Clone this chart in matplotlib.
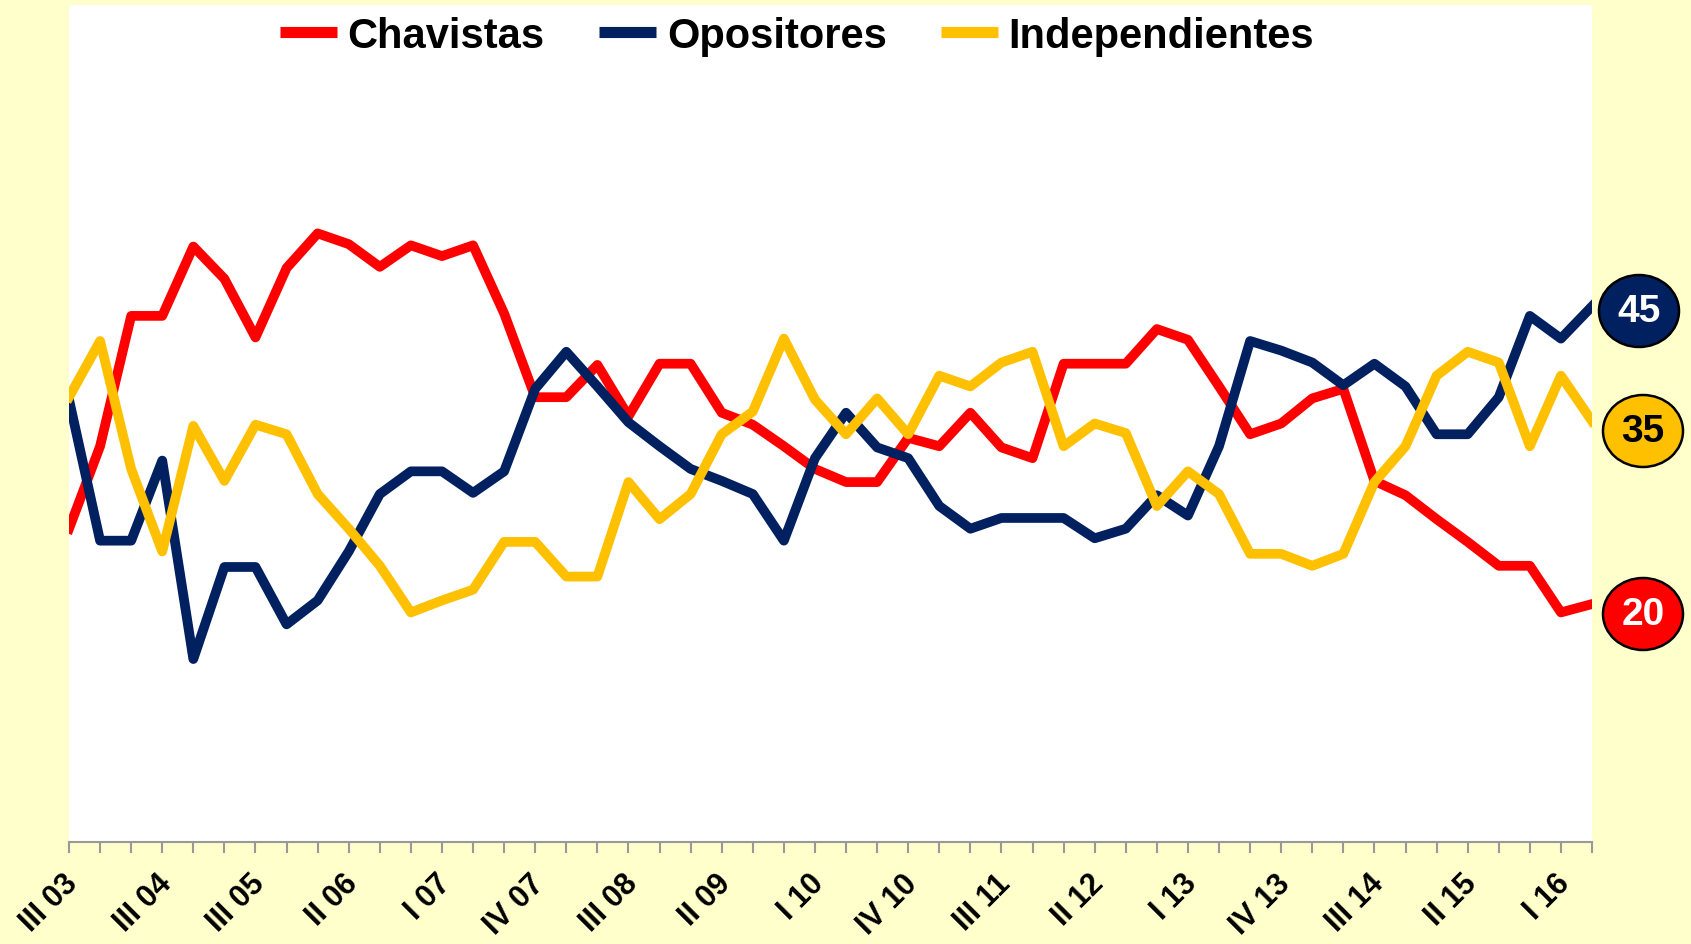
import matplotlib
matplotlib.use("Agg")
import matplotlib.pyplot as plt
import matplotlib.transforms as mtransforms
from matplotlib.patches import Ellipse
from matplotlib.lines import Line2D

plt.rcParams['font.family'] = ['Liberation Sans', 'DejaVu Sans']

# quarterly readings, III 03 .. II 16 (50 points), in %
chavistas = [26.2, 33.1, 44.0, 44.0, 49.8, 47.1, 42.2, 48.0, 50.9, 50.0,
             48.1, 49.9, 49.0, 49.9, 44.2, 37.2, 37.2, 39.9, 35.6, 40.0,
             40.0, 35.9, 34.9, 33.1, 31.2, 30.1, 30.1, 33.8, 33.1, 35.9,
             33.0, 32.1, 40.0, 40.0, 40.0, 42.9, 42.0, 38.1, 34.1, 35.0,
             37.1, 37.9, 30.2, 29.0, 27.0, 25.1, 23.1, 23.1, 19.2, 19.9]
opositores = [37.0, 25.2, 25.2, 31.9, 15.3, 23.0, 23.0, 18.2, 20.2, 24.3,
              29.1, 31.0, 31.0, 29.2, 31.0, 37.9, 41.0, 38.1, 35.1, 33.1,
              31.2, 30.2, 29.1, 25.2, 32.1, 35.9, 33.0, 32.1, 28.1, 26.2,
              27.1, 27.1, 27.1, 25.4, 26.2, 29.0, 27.3, 33.1, 41.9, 41.1,
              40.1, 38.2, 40.0, 38.1, 34.1, 34.1, 37.2, 44.0, 42.1, 44.8]
independientes = [37.2, 41.9, 31.2, 24.3, 34.8, 30.2, 34.9, 34.1, 29.1, 26.2,
                  23.1, 19.2, 20.2, 21.1, 25.1, 25.1, 22.2, 22.2, 30.1, 27.0,
                  29.1, 34.1, 36.0, 42.1, 37.0, 34.1, 37.1, 34.1, 39.0, 38.1,
                  40.1, 41.0, 33.1, 35.0, 34.2, 28.1, 31.0, 29.1, 24.1, 24.1,
                  23.1, 24.1, 30.1, 33.1, 39.0, 41.0, 40.1, 33.1, 39.0, 35.2]

tick_labels = ['III 03', 'III 04', 'III 05', 'II 06', 'I 07', 'IV 07', 'III 08',
               'II 09', 'I 10', 'IV 10', 'III 11', 'II 12', 'I 13', 'IV 13',
               'III 14', 'II 15', 'I 16']
series_names = ['Chavistas', 'Opositores', 'Independientes']
end_labels = ['45', '35', '20']

RED = '#FF0000'
NAVY = '#002060'
GOLD = '#FFC000'
colors = [RED, NAVY, GOLD]

W, H = 1691, 945
fig = plt.figure(figsize=(W / 100, H / 100), dpi=100, facecolor='#FFFFCC')
ax = fig.add_axes([69 / W, 1 - 843 / H, (1592 - 69) / W, (843 - 6) / H])
ax.set_facecolor('white')

x = list(range(len(chavistas)))
for vals, c in zip([chavistas, opositores, independientes], colors):
    ax.plot(x, vals, color=c, lw=7, solid_joinstyle='round')

ax.set_xlim(0, len(x) - 1)
ax.set_ylim(0, 70)

for s in ['left', 'right', 'top']:
    ax.spines[s].set_visible(False)
ax.spines['bottom'].set_color('#999999')
ax.spines['bottom'].set_linewidth(1.5)
ax.set_yticks([])

ax.set_xticks(x)
labels = [''] * len(x)
for k, lab in enumerate(tick_labels):
    labels[k * 3] = lab
ax.set_xticklabels(labels, rotation=45, ha='right', va='top',
                   rotation_mode='anchor', fontsize=22, fontweight='bold')
ax.tick_params(axis='x', length=8, width=1.5, color='#999999', pad=10.8)
shift = mtransforms.ScaledTranslation(-6 / 100, 0, fig.dpi_scale_trans)
for lab in ax.get_xticklabels():
    lab.set_transform(lab.get_transform() + shift)

handles = [Line2D([], [], color=c, lw=8, solid_capstyle='butt') for c in colors]
fig.legend(handles, series_names, loc='center', bbox_to_anchor=(797 / W, 1 - 37 / H),
           ncol=3, frameon=False, prop={'size': 30, 'weight': 'bold'},
           handlelength=1.37, handletextpad=0.26, columnspacing=1.3,
           borderaxespad=0, borderpad=0)

# end-value bubbles
bubbles = [(1639, 312, NAVY, 'white'), (1643, 432, GOLD, 'black'), (1643, 615, RED, 'white')]
for (bx, by, fc, tc), txt in zip(bubbles, end_labels):
    fig.add_artist(Ellipse((bx / W, 1 - by / H), 80 / W, 72 / H, transform=fig.transFigure,
                           facecolor=fc, edgecolor='black', lw=1.8))
    fig.text(bx / W, 1 - by / H, txt, ha='center', va='center', color=tc,
             fontsize=28, fontweight='bold')

fig.savefig('out.png', dpi=100, facecolor=fig.get_facecolor())
